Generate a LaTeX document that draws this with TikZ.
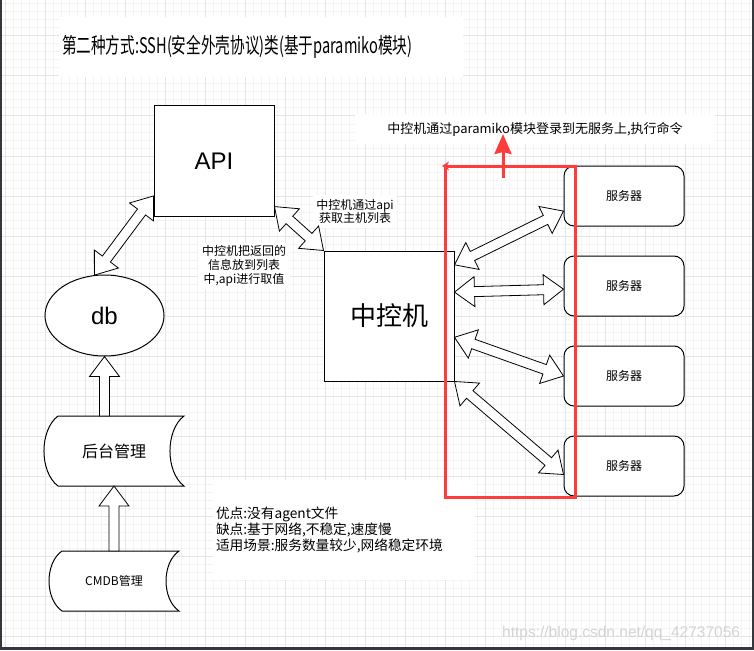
\documentclass[tikz,border=0pt]{standalone}
\usepackage{fontspec}
\setmainfont{Liberation Sans}
\newfontfamily\cjk{Noto Sans CJK SC}
\newfontfamily\cjktitle[FakeStretch=0.68]{Noto Sans CJK SC}
\usetikzlibrary{arrows.meta, calc, backgrounds, shapes.geometric}
\definecolor{gridmajor}{RGB}{229,229,229}
\definecolor{gridminor}{RGB}{243,243,243}
\definecolor{framedark}{RGB}{52,56,60}
\definecolor{markred}{RGB}{255,60,60}
\definecolor{wmgray}{RGB}{212,212,212}

% hollow block arrow, heads at both ends
\newcommand{\fatarrow}[2]{%
  \path[fatline] let \p1=(#1), \p2=(#2),
    \n1={atan2(\y2-\y1,\x2-\x1)} in
    (\p1) -- ($(\p1)+(\n1:20pt)+(\n1+90:15pt)$)
    -- ($(\p1)+(\n1:20pt)+(\n1+90:5pt)$)
    -- ($(\p2)+(\n1+180:20pt)+(\n1+90:5pt)$)
    -- ($(\p2)+(\n1+180:20pt)+(\n1+90:15pt)$)
    -- (\p2)
    -- ($(\p2)+(\n1+180:20pt)+(\n1-90:15pt)$)
    -- ($(\p2)+(\n1+180:20pt)+(\n1-90:5pt)$)
    -- ($(\p1)+(\n1:20pt)+(\n1-90:5pt)$)
    -- ($(\p1)+(\n1:20pt)+(\n1-90:15pt)$) -- cycle;}
% hollow block arrow, head at the second point only
\newcommand{\fatuparrow}[2]{%
  \path[fatline] let \p1=(#1), \p2=(#2),
    \n1={atan2(\y2-\y1,\x2-\x1)} in
    ($(\p1)+(\n1+90:5pt)$)
    -- ($(\p2)+(\n1+180:20pt)+(\n1+90:5pt)$)
    -- ($(\p2)+(\n1+180:20pt)+(\n1+90:15pt)$)
    -- (\p2)
    -- ($(\p2)+(\n1+180:20pt)+(\n1-90:15pt)$)
    -- ($(\p2)+(\n1+180:20pt)+(\n1-90:5pt)$)
    -- ($(\p1)+(\n1-90:5pt)$) -- cycle;}

\begin{document}
\begin{tikzpicture}[
  x=1pt, y=-1pt,
  box/.style={draw, line width=1pt, fill=white, inner sep=0pt},
  server/.style={box, rounded corners=10pt, minimum width=120pt,
                 minimum height=60pt, font={\cjk\fontsize{12}{14}\selectfont}},
  dbnode/.style={box, ellipse, minimum width=119pt, minimum height=81pt,
                 font={\fontsize{24}{28}\selectfont}},
  storebox/.style={inner sep=0pt, outer sep=0pt},
  storeline/.style={draw, line width=1pt, fill=white},
  fatline/.style={draw, line width=0.8pt, fill=white, line join=miter},
  note/.style={fill=white, inner sep=0pt, align=center,
               font={\cjk\fontsize{12}{13}\selectfont}},
  redframe/.style={draw=markred, line width=3pt, -{Stealth[length=7pt,width=9pt]}},
  redup/.style={draw=markred, line width=3pt, -{Stealth[length=20pt,width=17pt,inset=2pt]}},
  minorgrid/.style={draw=gridminor, line width=1pt},
  majorgrid/.style={draw=gridmajor, line width=1pt}
]
  \useasboundingbox (0,0) rectangle (754,650);

  % page and grid
  \begin{scope}[on background layer]
    \fill[white] (0,0) rectangle (754,650);
    \foreach \gx in {5,13,...,749} \draw[minorgrid] (\gx,0) -- (\gx,650);
    \foreach \gy in {4,12,...,644} \draw[minorgrid] (0,\gy) -- (754,\gy);
    \foreach \gx in {5,45,...,725} \draw[majorgrid] (\gx,0) -- (\gx,650);
    \foreach \gy in {36,76,...,636} \draw[majorgrid] (0,\gy) -- (754,\gy);
  \end{scope}

  % texts
  \node[fill=white, inner xsep=3pt, inner ysep=0pt, text width=398pt,
        minimum height=60pt, align=left,
        font={\cjktitle\fontsize{21.5}{24}\selectfont}] (title) at (261,47)
    {第二种方式:SSH(安全外壳协议)类(基于paramiko模块)};
  \node[note, minimum width=360pt, minimum height=30pt,
        font={\cjk\fontsize{13}{15}\selectfont}] (login) at (535,129)
    {中控机通过paramiko模块登录到无服务上,执行命令};
  \node[note, minimum width=84pt, minimum height=33pt] (fetch) at (355,211.5)
    {中控机通过api\\获取主机列表};
  \node[note, minimum width=92pt, minimum height=46pt,
        font={\cjk\fontsize{12}{14}\selectfont}] (store) at (244,266)
    {中控机把返回的\\信息放到列表\\中,api进行取值};
  \node[note, align=left, text width=256pt, inner xsep=3pt, minimum height=100pt,
        font={\cjk\fontsize{13.7}{16}\selectfont}] (pros) at (344,530)
    {优点:没有agent文件\\缺点:基于网络,不稳定,速度慢\\适用场景:服务数量较少,网络稳定环境};

  % main boxes
  \node[box, minimum width=120pt, minimum height=110pt,
        font={\fontsize{24}{28}\selectfont}] (api) at (214,161) {API};
  \node[box, minimum width=130pt, minimum height=130pt,
        font={\cjk\fontsize{26}{30}\selectfont}] (ctl) at (389,316) {中控机};
  \node[dbnode] (db) at (104.5,315.5) {db};
  \foreach \i/\sy in {1/196,2/286,3/376,4/466}
    \node[server] (srv\i) at (624,\sy) {服务器};

  \node[storebox, minimum width=140pt, minimum height=70pt,
        font={\cjk\fontsize{16}{18}\selectfont}] (bg) at (114,451) {后台管理};
  \node[storebox, minimum width=130pt, minimum height=60pt,
        font={\cjk\fontsize{12}{14}\selectfont}] (cmdb) at (114,581) {CMDB管理};
  \begin{scope}[on background layer]
    \draw[storeline] ([xshift=14pt]bg.north west) -- (bg.north east)
      .. controls ([xshift=-18.7pt,yshift=-14pt]bg.north east)
      and ([xshift=-18.7pt,yshift=14pt]bg.south east) .. (bg.south east)
      -- ([xshift=14pt]bg.south west)
      .. controls ([xshift=-4.7pt,yshift=14pt]bg.south west)
      and ([xshift=-4.7pt,yshift=-14pt]bg.north west) .. ([xshift=14pt]bg.north west)
      -- cycle;
    \draw[storeline] ([xshift=13pt]cmdb.north west) -- (cmdb.north east)
      .. controls ([xshift=-17.3pt,yshift=-12pt]cmdb.north east)
      and ([xshift=-17.3pt,yshift=12pt]cmdb.south east) .. (cmdb.south east)
      -- ([xshift=13pt]cmdb.south west)
      .. controls ([xshift=-4.3pt,yshift=12pt]cmdb.south west)
      and ([xshift=-4.3pt,yshift=-12pt]cmdb.north west) .. ([xshift=13pt]cmdb.north west)
      -- cycle;
  \end{scope}

  % block arrows
  \fatuparrow{cmdb.north}{bg.south}
  \fatuparrow{bg.north -| db.south}{db.south}
  \fatarrow{db.104}{api.210}
  \fatarrow{api.-37}{ctl.north west}
  \fatarrow{ctl.38}{srv1.194}
  \fatarrow{ctl.20}{srv2.183}
  \fatarrow{ctl.-18}{srv3.west}
  \fatarrow{ctl.south east}{srv4.188}

  % red frame round the ssh links
  \coordinate (redtl) at (445,166);
  \coordinate (redbr) at (575,497);
  \coordinate (upstart) at (503,178);
  \coordinate (uptip) at (503,134);
  \draw[redframe] (redtl) -- (redtl |- redbr) -- (redbr) -- (redbr |- redtl)
    -- ([xshift=-3pt]redtl);
  \draw[redup] (upstart) -- (uptip);

  % watermark and window edges
  \node[anchor=base west, inner sep=0pt, text=wmgray,
        font={\fontsize{15.5}{18}\selectfont}] (mark) at (502,637)
    {https://blog.csdn.net/qq\_42737056};
  \fill[framedark] (0,0) rectangle (2,650);
  \fill[framedark] (752,0) rectangle (754,650);
  \fill[framedark] (0,647) rectangle (754,650);
\end{tikzpicture}
\end{document}
